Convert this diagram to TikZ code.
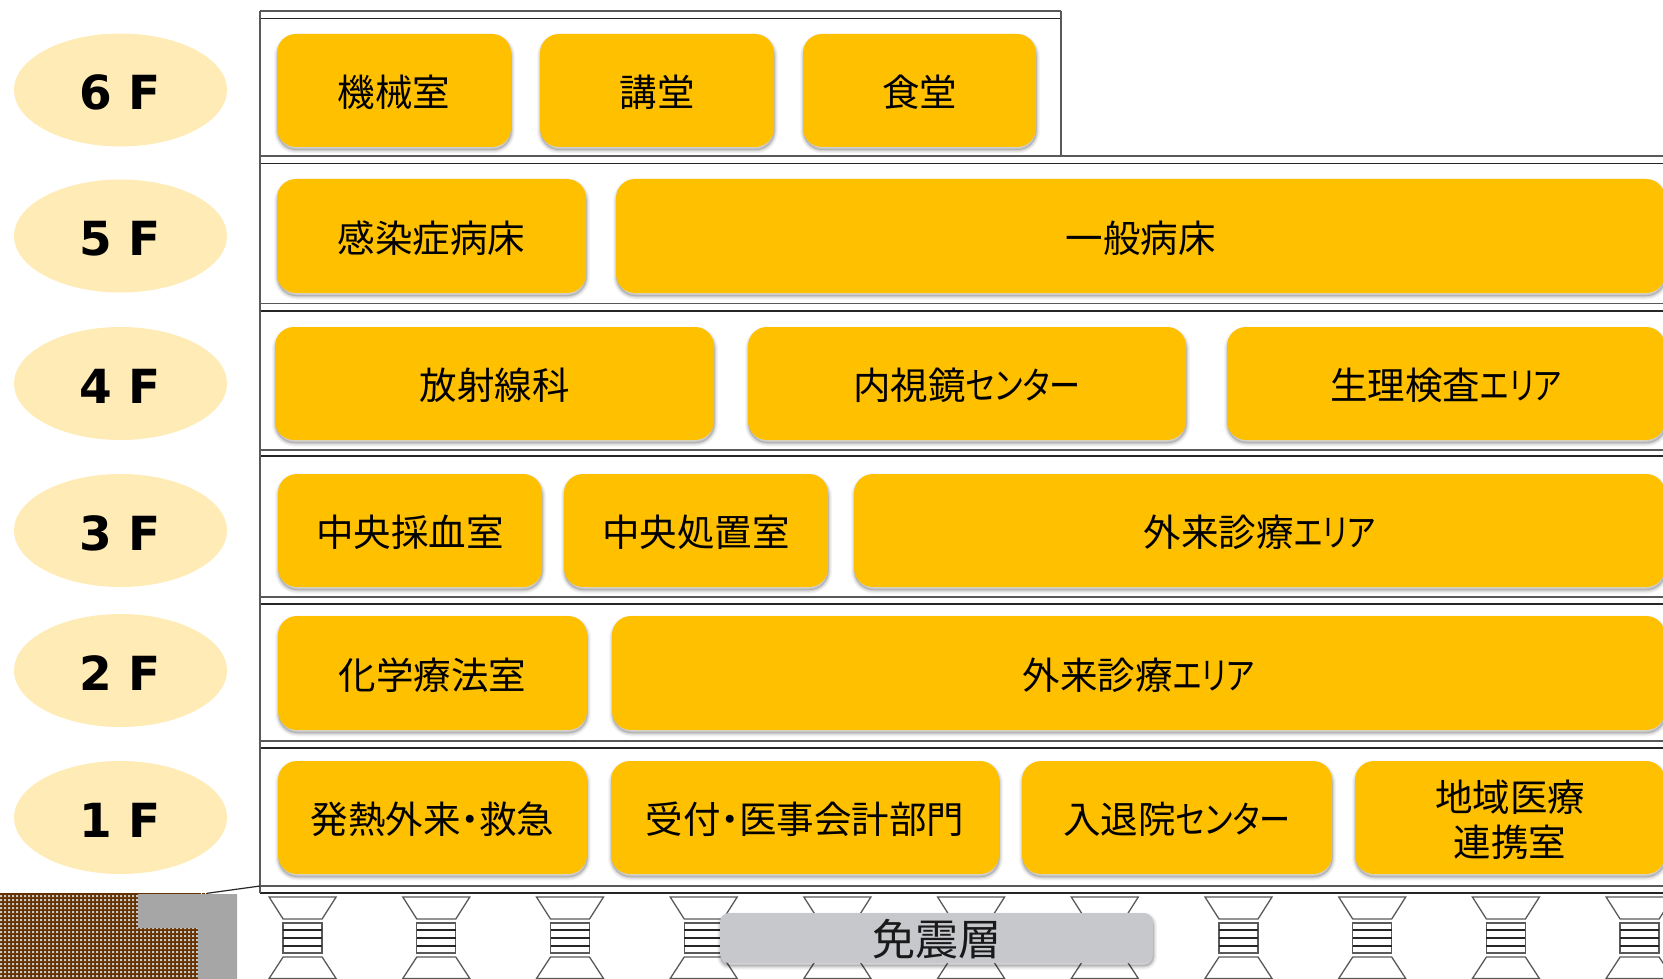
\documentclass[tikz,border=0pt]{standalone}
\usepackage{fontspec}
\usetikzlibrary{shapes.geometric}
\newfontfamily\jp[RawFeature=+palt]{Noto Sans CJK JP}
\newfontfamily\jpk[RawFeature=+palt,FakeStretch=0.8]{Noto Sans CJK JP}
\newfontfamily\jpc[RawFeature=+palt,FakeStretch=0.83]{Noto Sans CJK JP}
\newfontfamily\lab{DejaVu Sans}
\definecolor{amber}{HTML}{FFC000}
\definecolor{pale}{HTML}{FFEBB5}
\definecolor{soil}{HTML}{663300}
\definecolor{dotc}{HTML}{C8C8C8}
\definecolor{wall}{HTML}{A6A6A6}
\definecolor{layerc}{HTML}{C7C8CC}
\definecolor{lineA}{HTML}{595959}
\definecolor{lineB}{HTML}{262626}
\tikzset{
  softshadow/.style={
    preaction={draw=black,line width=7pt,opacity=.04,transform canvas={xshift=.5pt,yshift=-3pt}},
    preaction={draw=black,line width=5pt,opacity=.05,transform canvas={xshift=.5pt,yshift=-3pt}},
    preaction={draw=black,line width=3pt,opacity=.07,transform canvas={xshift=.5pt,yshift=-3pt}},
    preaction={draw=black,line width=1.2pt,opacity=.08,transform canvas={xshift=.5pt,yshift=-3pt}},
    preaction={fill=black,opacity=.12,transform canvas={xshift=.5pt,yshift=-3pt}}},
  roombox/.style={softshadow,rectangle,rounded corners=19pt,fill=amber,inner sep=0pt,align=center,text=black,
    text height=36pt,font=\jp\fontsize{37.5}{45}\selectfont},
  layerbox/.style={softshadow,rectangle,rounded corners=9pt,fill=layerc,inner sep=0pt,text=black!90,
    text height=39pt,font=\jp\fontsize{43}{50}\selectfont},
  floorlabel/.style={ellipse,fill=pale,inner sep=0pt,minimum width=213pt,minimum height=113pt,text=black,
    text height=39.5pt,text depth=0pt,font=\lab\bfseries\fontsize{47}{55}\selectfont},
  slabtop/.style={draw=lineA,line width=1.4pt},
  slabbot/.style={draw=lineB,line width=1.4pt},
  iso/.style={draw=lineA,line width=1.3pt},
  isobar/.style={draw=lineB,line width=1.5pt}
}
\newcommand{\room}[6]{%
  \pgfmathsetmacro{\rcx}{(#2+#3)/2}\pgfmathsetmacro{\rcy}{(#4+#5)/2}%
  \pgfmathsetmacro{\rwd}{#3-#2}\pgfmathsetmacro{\rht}{#5-#4}%
  \node[roombox,minimum width=\rwd pt,minimum height=\rht pt] (#1) at (\rcx,\rcy) {#6};}
\begin{document}
\begin{tikzpicture}[x=1pt,y=-1pt]
\useasboundingbox (0,0) rectangle (1663,979);
% ground
\fill[soil] (0,893) rectangle (198,979);
\fill[dotc] \foreach \i in {0,4,...,196} { \foreach \j in {895,899,...,979} { (\i,\j) rectangle ++(2,2) } };
\fill[wall] (138,894) -- (237,894) -- (237,979) -- (198,979) -- (198,928) -- (138,928) -- cycle;
\draw[soil,line width=1pt,dash pattern=on 3pt off 1pt] (138,893.3) -- (207,893.3);
% building slabs
\draw[slabtop] (260,11) -- (1061,11);
\draw[slabbot] (260,18.5) -- (1061,18.5);
\foreach \a/\b in {156/163.6,303.4/310.8,450/456,597/604,741/748,886/893} {
  \draw[slabtop] (260,\a) -- (1663,\a);
  \draw[slabbot] (260,\b) -- (1663,\b);
}
\draw[lineA,line width=1.2pt] (260,11) -- (260,893);
\draw[lineA,line width=1.2pt] (1061,11) -- (1061,156);
\draw[lineB,line width=1.2pt] (207,893.3) -- (260,886);
% isolators
\foreach \k in {0,...,10} {
  \pgfmathsetmacro{\isoc}{302.6+133.7*\k}
  \begin{scope}[xshift=\isoc pt]
    \draw[iso] (-33.5,897) -- (33.5,897) -- (19.5,919) -- (-19.5,919) -- cycle;
    \draw[iso] (-19.5,923) rectangle (19.5,953);
    \draw[isobar] (-19.5,930) -- (19.5,930) (-19.5,938) -- (19.5,938) (-19.5,946) -- (19.5,946);
    \draw[iso] (-19.5,957) -- (19.5,957) -- (33.5,978.5) -- (-33.5,978.5) -- cycle;
  \end{scope}
}
\node[layerbox,minimum width=433pt,minimum height=50pt] (menshin) at (936.5,938) {免震層};
% floor labels
\node[floorlabel] (f6) at (120.5,90) {6 F};
\node[floorlabel] (f5) at (120.5,236) {5 F};
\node[floorlabel] (f4) at (120.5,383.5) {4 F};
\node[floorlabel] (f3) at (120.5,530.5) {3 F};
\node[floorlabel] (f2) at (120.5,670.5) {2 F};
\node[floorlabel] (f1) at (120.5,817.5) {1 F};
% rooms
\room{a1}{277}{511}{34}{147}{機械室}
\room{a2}{540}{774}{34}{147}{講堂}
\room{a3}{803}{1036}{34}{147}{食堂}
\room{b1}{277}{586}{179}{293}{感染症病床}
\room{b2}{616}{1665}{179}{293}{一般病床}
\room{c1}{275}{714}{327}{440}{放射線科}
\room{c2}{748}{1186}{327}{440}{内視鏡{\jpc センター}}
\room{c3}{1227}{1665}{327}{440}{生理検査{\jpk エリア}}
\room{d1}{278}{542}{474}{587}{中央採血室}
\room{d2}{564}{828}{474}{587}{中央処置室}
\room{d3}{854}{1665}{474}{587}{外来診療{\jpk エリア}}
\room{e1}{278}{587}{616}{730}{化学療法室}
\room{e2}{612}{1665}{616}{730}{外来診療{\jpk エリア}}
\room{g1}{278}{587}{761}{874}{発熱外来・救急}
\room{g2}{611}{999}{761}{874}{受付・医事会計部門}
\room{g3}{1022}{1332}{761}{874}{入退院{\jpc センター}}
\node[roombox,text height=82pt,minimum width=310pt,minimum height=113pt] (g4) at (1510,817.5) {地域医療\\連携室};
\end{tikzpicture}
\end{document}
